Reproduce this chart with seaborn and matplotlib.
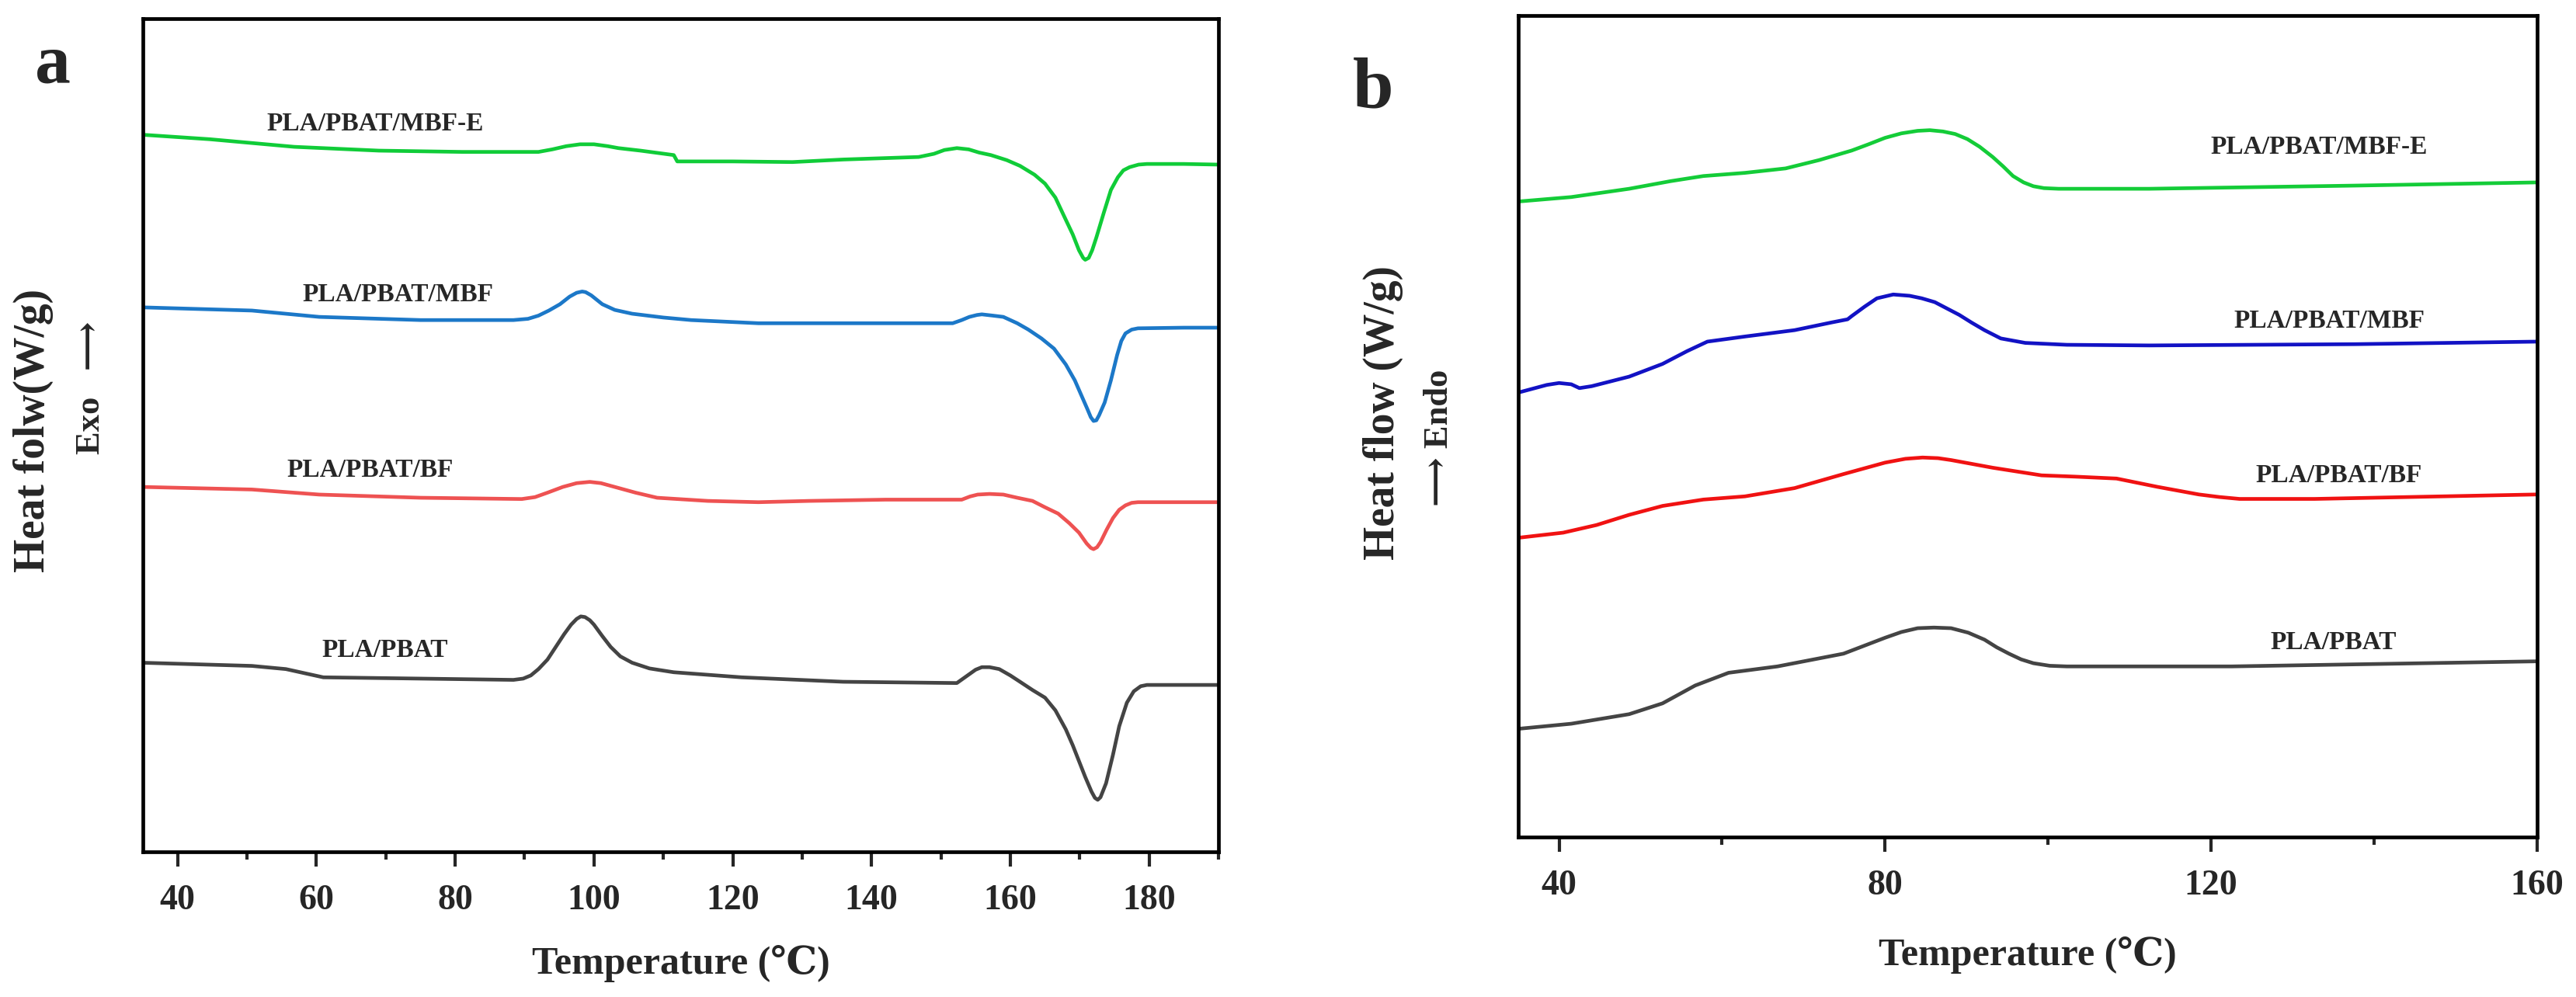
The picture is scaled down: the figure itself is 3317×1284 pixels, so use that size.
import pandas as pd
import matplotlib.pyplot as plt
import seaborn as sns

sns.set_theme(style="white")
plt.rcParams["font.family"] = ["Liberation Serif", "DejaVu Serif"]
plt.rcParams["font.weight"] = "bold"

# -------------------
# Data (heat flow in arbitrary units)
# -------------------
series = ["PLA/PBAT/MBF-E", "PLA/PBAT/MBF", "PLA/PBAT/BF", "PLA/PBAT"]

# panel a: cooling / melting scan
a_mbfe_t = [35, 44.6, 56.8, 69, 81, 92, 94, 96, 98, 100, 102, 103.5, 106.7, 111.5, 112, 120, 128.6, 135.9, 146.8,
            149, 150.5, 152.3, 154, 155.5, 157.2, 159.5, 161.4, 163.5, 165, 166.5, 167.7, 169, 169.9, 170.5, 170.8,
            171.3, 171.8, 172.4, 173.5, 174.5, 175.5, 176.3, 177.2, 178.5, 179.7, 185, 190]
a_mbfe_y = [1187, 1180, 1168, 1162, 1160, 1160, 1164, 1169, 1172, 1172, 1169, 1166, 1162, 1155, 1145, 1145, 1144, 1148, 1152,
            1157, 1163, 1166, 1164, 1159, 1155, 1147, 1138, 1124, 1110, 1088, 1060, 1030, 1005, 993, 990,
            993, 1005, 1025, 1065, 1100, 1120, 1131, 1136, 1140, 1141, 1141, 1140]

a_mbf_t = [35, 50.7, 60.4, 75, 88.4, 90.5, 92, 93.5, 95.1, 96.5, 97.5, 98.3, 98.8, 99.6, 100.4, 101.2, 102.2, 103,
           105.5, 110, 114, 123.7, 140, 151.7, 153, 154.1, 155.2, 155.9, 157.5, 159, 161, 162.6, 164.5, 166.3,
           168, 169.3, 170.3, 171.1, 171.6, 172, 172.4, 172.8, 173.6, 174.5, 175.4, 176, 176.6, 177.5, 178.4, 185, 190]
a_mbf_y = [915, 910, 900, 895, 895, 897, 902, 910, 920, 932, 938, 940, 939, 934, 927, 920, 915, 911,
           905, 899, 895, 890, 890, 890, 895, 900, 903, 904, 902, 900, 890, 880, 866, 850,
           825, 800, 775, 755, 742, 736, 737, 745, 765, 800, 840, 862, 874, 880, 882, 883, 883]

a_bf_t = [35, 50.7, 60.4, 75, 89.6, 91.5, 93.3, 95.5, 97.5, 99.4, 101, 103, 106, 109.1, 116.4, 123.7, 131, 142, 153,
          154.2, 155.3, 157, 159, 161, 163.2, 165, 166.9, 168.5, 169.9, 171, 171.6, 172, 172.5, 173, 173.9, 174.8,
          175.7, 176.6, 177.5, 178.4, 185, 190]
a_bf_y = [632, 628, 620, 615, 613, 616, 623, 632, 638, 640, 638, 632, 623, 615, 610, 608, 610, 612, 612,
          617, 620, 621, 620, 615, 610, 600, 590, 575, 560, 543, 536, 534, 537, 545, 565, 583,
          596, 603, 607, 608, 608, 608]

a_pb_t = [35, 50.7, 55.6, 58.5, 61, 75, 88.4, 89.8, 90.9, 92, 93.3, 94.5, 95.7, 96.7, 97.5, 98.1, 98.7, 99.4, 100,
          101.2, 102.4, 103.8, 105.5, 108, 111.5, 121.3, 135.9, 152.3, 153.2, 154.1, 155, 155.9, 157, 158.4, 160,
          161.4, 163.2, 165, 166.5, 168, 169, 169.9, 170.8, 171.7, 172.2, 172.6, 173, 173.8, 174.8, 175.7, 176.8,
          177.8, 178.8, 179.7, 185, 190]
a_pb_y = [355, 350, 345, 338, 332, 330, 328, 330, 335, 345, 360, 380, 400, 415, 424, 428, 427, 422, 415,
          397, 380, 365, 355, 346, 340, 332, 325, 323, 330, 337, 344, 348, 348, 345, 335,
          325, 312, 300, 280, 250, 225, 200, 175, 152, 142, 139, 143, 165, 210, 255, 292,
          310, 318, 320, 320, 320]

# panel b: second heating scan
b_mbfe_t = [35, 41.5, 48.6, 53.7, 57.7, 62.8, 67.8, 71.9, 75.9, 78, 80, 82, 84, 85.5, 87.1, 88.6, 90.1, 91.6, 93.2,
            94.5, 95.7, 97, 98.2, 99.5, 101.3, 112.4, 137.7, 160]
b_mbfe_y = [1080, 1087, 1100, 1112, 1120, 1125, 1132, 1145, 1160, 1170, 1180, 1187, 1191, 1192, 1190, 1186, 1178, 1166, 1150,
            1135, 1120, 1110, 1104, 1101, 1100, 1100, 1105, 1110]

b_mbf_t = [35, 38.5, 40, 41.5, 42.5, 44, 48.6, 52.7, 55.7, 58.2, 62.8, 68.9, 73.4, 75.4, 75.9, 77.5, 79, 81, 83,
           84.5, 86.1, 87.6, 89.1, 90.6, 92.2, 94.2, 97.2, 102.3, 112.4, 137.7, 160]
b_mbf_y = [780, 792, 795, 793, 787, 790, 805, 825, 845, 860, 868, 878, 890, 895, 900, 915, 928, 934, 932,
           928, 922, 912, 902, 890, 878, 865, 858, 855, 854, 856, 860]

b_bf_t = [35, 40.5, 44.6, 48.6, 52.7, 57.7, 62.8, 68.9, 74.9, 80, 82.5, 84.6, 86.5, 88.1, 93.2, 99.2, 103.3, 108.4,
          113.4, 118.5, 121, 123.5, 132.7, 160]
b_bf_y = [552, 560, 572, 588, 602, 612, 617, 630, 652, 670, 676, 678, 677, 674, 662, 650, 648, 645,
          632, 620, 616, 613, 613, 620]

b_pb_t = [35, 41.5, 48.6, 52.7, 56.7, 60.8, 66.8, 74.9, 80, 82, 84, 86, 88.1, 90.2, 92.2, 93.7, 95.2, 96.7, 98.2,
          100.2, 102.3, 122.5, 160]
b_pb_y = [252, 260, 275, 292, 320, 340, 350, 370, 395, 404, 410, 411, 410, 403, 392, 380, 370, 361, 355,
          351, 350, 350, 358]

colors_a = {"PLA/PBAT/MBF-E": "#10CC38", "PLA/PBAT/MBF": "#1C78C8",
            "PLA/PBAT/BF": "#EE5252", "PLA/PBAT": "#444444"}
colors_b = {"PLA/PBAT/MBF-E": "#14CC38", "PLA/PBAT/MBF": "#1212C4",
            "PLA/PBAT/BF": "#F01212", "PLA/PBAT": "#444444"}

# label anchors (temperature, heat flow)
a_label_t = [68.5, 71.8, 67.7, 69.9]
a_label_y = [1204, 935, 658, 375]
b_label_t = [133.2, 134.5, 135.7, 135.0]
b_label_y = [1165, 892, 650, 388]


def make_frame(ts, ys):
    rows = []
    for name, t, y in zip(series, ts, ys):
        rows.append(pd.DataFrame({"T": t, "HF": y, "Sample": name}))
    return pd.concat(rows, ignore_index=True)


df_a = make_frame([a_mbfe_t, a_mbf_t, a_bf_t, a_pb_t], [a_mbfe_y, a_mbf_y, a_bf_y, a_pb_y])
df_b = make_frame([b_mbfe_t, b_mbf_t, b_bf_t, b_pb_t], [b_mbfe_y, b_mbf_y, b_bf_y, b_pb_y])


# -------------------
# Axes styling
# -------------------
def style_axes(ax, xlim, ylim, major, minor, labelpad):
    ax.set_xlim(*xlim)
    ax.set_ylim(*ylim)
    ax.set_xticks(major)
    ax.set_xticks(minor, minor=True)
    ax.set_yticks([])
    for sp in ax.spines.values():
        sp.set_linewidth(3.4)
        sp.set_color("black")
    ax.tick_params(axis="x", which="major", direction="out", length=14, width=3, pad=16,
                   labelsize=33, bottom=True)
    ax.tick_params(axis="x", which="minor", direction="out", length=7, width=3, bottom=True)
    for lab in ax.get_xticklabels():
        lab.set_fontweight("bold")
    ax.set_xlabel("Temperature (\u2103)", fontsize=36, fontweight="bold", labelpad=labelpad)
    ax.set_ylabel("")


fig = plt.figure(figsize=(33.17, 12.84), dpi=100)
ax_a = fig.add_axes([0.0555, 0.1456, 0.4175, 0.8357])
ax_b = fig.add_axes([0.5894, 0.1604, 0.3955, 0.824])

sns.lineplot(data=df_a, x="T", y="HF", hue="Sample", palette=colors_a, sort=False,
             estimator=None, linewidth=3.4, legend=False, ax=ax_a)
sns.lineplot(data=df_b, x="T", y="HF", hue="Sample", palette=colors_b, sort=False,
             estimator=None, linewidth=3.4, legend=False, ax=ax_b)

style_axes(ax_a, (35, 190), (57, 1370), [40, 60, 80, 100, 120, 140, 160, 180],
           [50, 70, 90, 110, 130, 150, 170, 190], 26)
style_axes(ax_b, (35, 160), (82, 1372), [40, 80, 120, 160], [60, 100, 140], 32)

for name, t, y in zip(series, a_label_t, a_label_y):
    ax_a.text(t, y, name, ha="center", va="center", fontsize=24, fontweight="bold")
for name, t, y in zip(series, b_label_t, b_label_y):
    ax_b.text(t, y, name, ha="center", va="center", fontsize=24, fontweight="bold")

# y labels with direction arrows
fig.text(0.013, 0.568, "Heat folw(W/g)", rotation=90, ha="center", va="center",
         fontsize=40, fontweight="bold")
fig.text(0.0353, 0.611, "Exo   \u27f6", rotation=90, ha="center", va="center",
         fontsize=32, fontweight="bold")
fig.text(0.537, 0.586, "Heat flow (W/g)", rotation=90, ha="center", va="center",
         fontsize=40, fontweight="bold")
fig.text(0.5587, 0.561, "\u27f6 Endo", rotation=90, ha="center", va="center",
         fontsize=32, fontweight="bold")

# panel letters
fig.text(0.0205, 0.934, "a", ha="center", va="center", fontsize=66, fontweight="bold")
fig.text(0.533, 0.91, "b", ha="center", va="center", fontsize=68, fontweight="bold")

fig.savefig("out.png", dpi=100, facecolor="white")
